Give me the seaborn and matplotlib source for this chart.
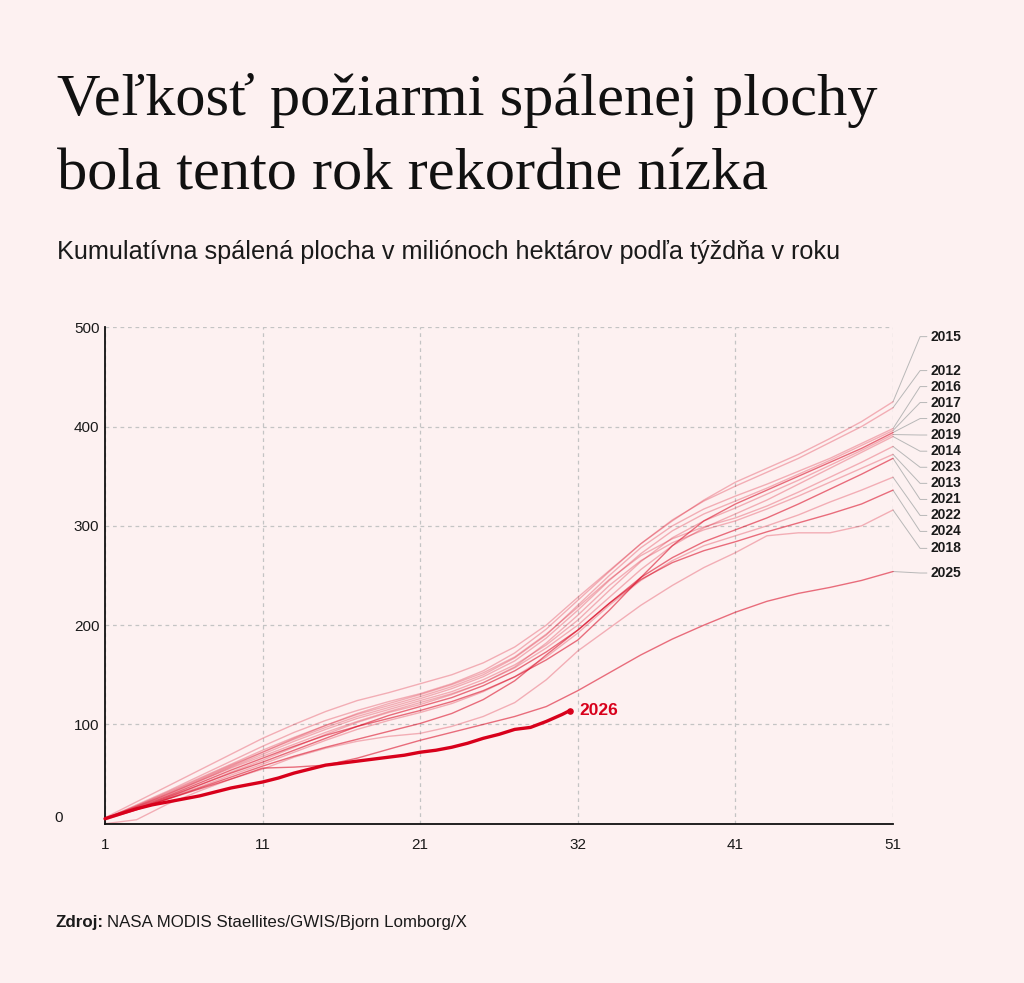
import pandas as pd
import seaborn as sns
from matplotlib import pyplot as plt

# --- data (mil. ha, cumulative, every other week) ---
weeks = list(range(1, 52, 2))

area_2012 = [5, 19, 33, 48, 63, 78, 92, 104, 114, 123, 131, 141, 154, 172, 196, 225, 254, 282, 306, 325, 340, 354, 368, 384, 400, 419]
area_2013 = [4, 14, 26, 39, 52, 64, 77, 90, 102, 112, 120, 130, 142, 158, 182, 210, 240, 265, 283, 296, 305, 317, 330, 344, 358, 372]
area_2014 = [6, 17, 30, 43, 56, 68, 80, 92, 103, 113, 122, 131, 142, 157, 177, 200, 228, 256, 280, 298, 312, 326, 342, 358, 374, 390]
area_2015 = [6, 22, 38, 54, 70, 86, 100, 113, 124, 132, 141, 150, 162, 178, 200, 228, 255, 282, 305, 326, 344, 358, 372, 388, 405, 425]
area_2016 = [5, 18, 32, 46, 60, 74, 87, 99, 110, 119, 128, 138, 150, 167, 190, 220, 250, 278, 300, 317, 330, 342, 355, 368, 383, 398]
area_2017 = [4, 17, 30, 44, 58, 72, 85, 97, 108, 117, 126, 136, 148, 164, 187, 215, 245, 272, 295, 312, 325, 338, 352, 366, 381, 396]
area_2018 = [0, 4, 20, 33, 45, 55, 67, 76, 83, 88, 91, 98, 108, 122, 145, 174, 197, 220, 240, 258, 273, 290, 293, 293, 300, 316]
area_2019 = [5, 17, 29, 43, 57, 70, 83, 95, 106, 115, 124, 133, 145, 160, 180, 205, 235, 264, 288, 305, 318, 332, 346, 361, 376, 392]
area_2020 = [5, 16, 28, 41, 54, 66, 78, 89, 98, 106, 114, 123, 134, 148, 165, 185, 215, 248, 280, 305, 322, 336, 350, 364, 378, 394]
area_2021 = [5, 15, 27, 39, 51, 62, 74, 86, 98, 109, 118, 127, 139, 154, 173, 195, 222, 248, 268, 284, 296, 308, 322, 337, 352, 368]
area_2022 = [5, 15, 26, 37, 49, 60, 72, 84, 95, 104, 112, 121, 133, 148, 168, 192, 220, 245, 265, 280, 290, 300, 311, 324, 336, 349]
area_2023 = [5, 18, 31, 45, 59, 72, 86, 99, 111, 121, 130, 140, 152, 168, 191, 218, 246, 270, 287, 299, 308, 320, 334, 349, 364, 380]
area_2024 = [5, 14, 25, 36, 47, 58, 68, 77, 85, 93, 101, 111, 125, 144, 170, 195, 222, 246, 263, 275, 284, 294, 303, 312, 322, 336]
area_2025 = [5, 15, 25, 35, 45, 56, 57, 59, 66, 75, 84, 92, 100, 108, 118, 134, 152, 170, 186, 200, 213, 224, 232, 238, 245, 254]

weeks_2026 = list(range(1, 31)) + [30.5]
area_2026 = [5, 10, 15, 19, 22, 25, 28, 32, 36, 39, 42, 46, 51, 55, 59, 61, 63, 65, 67, 69,
             72, 74, 77, 81, 86, 90, 95, 97, 103, 110, 114]

past = {2012: area_2012, 2013: area_2013, 2014: area_2014, 2015: area_2015,
        2016: area_2016, 2017: area_2017, 2018: area_2018, 2019: area_2019,
        2020: area_2020, 2021: area_2021, 2022: area_2022, 2023: area_2023,
        2024: area_2024, 2025: area_2025}

x_ticks = [1, 11, 21, 31, 41, 51]
x_labels = ["1", "11", "21", "32", "41", "51"]
y_ticks = [100, 200, 300, 400, 500]

# label layout on the right (value units)
label_y = {2015: 490.6, 2012: 456.4, 2016: 440.3, 2017: 424.2, 2020: 408.1,
           2019: 391.5, 2014: 375.2, 2023: 359.0, 2013: 342.8, 2021: 326.6,
           2022: 310.5, 2024: 294.4, 2018: 277.3, 2025: 252.5}
darker = {2020, 2021, 2024, 2025}

BG = "#fdf1f1"
RED = "#d8001b"
GRID = "#c4c4c4"

sns.set_theme(style="white")
plt.rcParams['font.family'] = ['Liberation Sans', 'DejaVu Sans']

long = pd.concat([pd.DataFrame({"week": weeks, "area": v, "year": y}) for y, v in past.items()])

fig = plt.figure(figsize=(10.24, 9.83), dpi=100, facecolor=BG)
ax = fig.add_axes([105 / 1024, 1 - 823.7 / 983, 788 / 1024, 496.4 / 983])
ax.set_facecolor(BG)

for y, g in long.groupby("year"):
    sns.lineplot(data=g, x="week", y="area", ax=ax, color=RED,
                 alpha=0.55 if y in darker else 0.28, lw=1.0, clip_on=False)

sns.lineplot(x=weeks_2026, y=area_2026, ax=ax, color=RED, lw=2.4,
             solid_capstyle="round", zorder=5, clip_on=False)
ax.scatter([weeks_2026[-1]], [area_2026[-1]], s=14, color=RED, zorder=6, clip_on=False)
ax.annotate("2026", (weeks_2026[-1], area_2026[-1]), xytext=(7, 0),
            textcoords="offset points", va="center", ha="left",
            fontsize=12.5, fontweight="bold", color=RED)

# leader lines + year labels
for y, v in past.items():
    end = v[-1]
    ly = label_y[y]
    ax.plot([51, 52.72, 53.15], [end, ly, ly], color="#b8b8b8", lw=0.7, clip_on=False, zorder=1)
    ax.text(53.4, ly, str(y), va="center", ha="left", fontsize=10,
            fontweight="bold", color="#1a1a1a")

ax.set_xlim(1, 51)
ax.set_ylim(0, 500)
ax.set_xticks(x_ticks)
ax.set_xticklabels(x_labels)
ax.set_yticks(y_ticks)
ax.set_yticklabels([str(t) for t in y_ticks])
ax.set_xlabel("")
ax.set_ylabel("")

ax.grid(True, color=GRID, linestyle=(0, (3, 3)), lw=0.9)
ax.set_axisbelow(True)
sns.despine(ax=ax, top=True, right=True)
for s in ["left", "bottom"]:
    ax.spines[s].set_color("#111111")
    ax.spines[s].set_linewidth(1.3)
ax.tick_params(axis="x", length=6, width=1.2, color="#111111", pad=4,
               labelsize=11, labelcolor="#1a1a1a")
ax.tick_params(axis="y", length=0, pad=4, labelsize=11, labelcolor="#1a1a1a")
fig.text(54 / 1024, 1 - 818 / 983, "0", fontsize=11, color="#1a1a1a", va="center", ha="left")

# titles
fig.text(57 / 1024, 1 - 115 / 983, "Veľkosť požiarmi spálenej plochy", fontsize=43.5,
         family=["Liberation Serif", "DejaVu Serif"], color="#111111", va="baseline")
fig.text(57 / 1024, 1 - 190 / 983, "bola tento rok rekordne nízka", fontsize=43.5,
         family=["Liberation Serif", "DejaVu Serif"], color="#111111", va="baseline")
fig.text(57 / 1024, 1 - 259.5 / 983,
         "Kumulatívna spálená plocha v miliónoch hektárov podľa týždňa v roku",
         fontsize=18.2, color="#1a1a1a", va="baseline")

# source
t1 = fig.text(55 / 1024, 1 - 926.5 / 983, "Zdroj:", fontsize=12.2, fontweight="bold",
              color="#1a1a1a", va="baseline")
fig.canvas.draw()
bb = t1.get_window_extent(renderer=fig.canvas.get_renderer())
fig.text((bb.x1 + 4) / 1024, 1 - 926.5 / 983, "NASA MODIS Staellites/GWIS/Bjorn Lomborg/X",
         fontsize=12.2, color="#1a1a1a", va="baseline")

fig.savefig("out.png", dpi=100, facecolor=BG)
